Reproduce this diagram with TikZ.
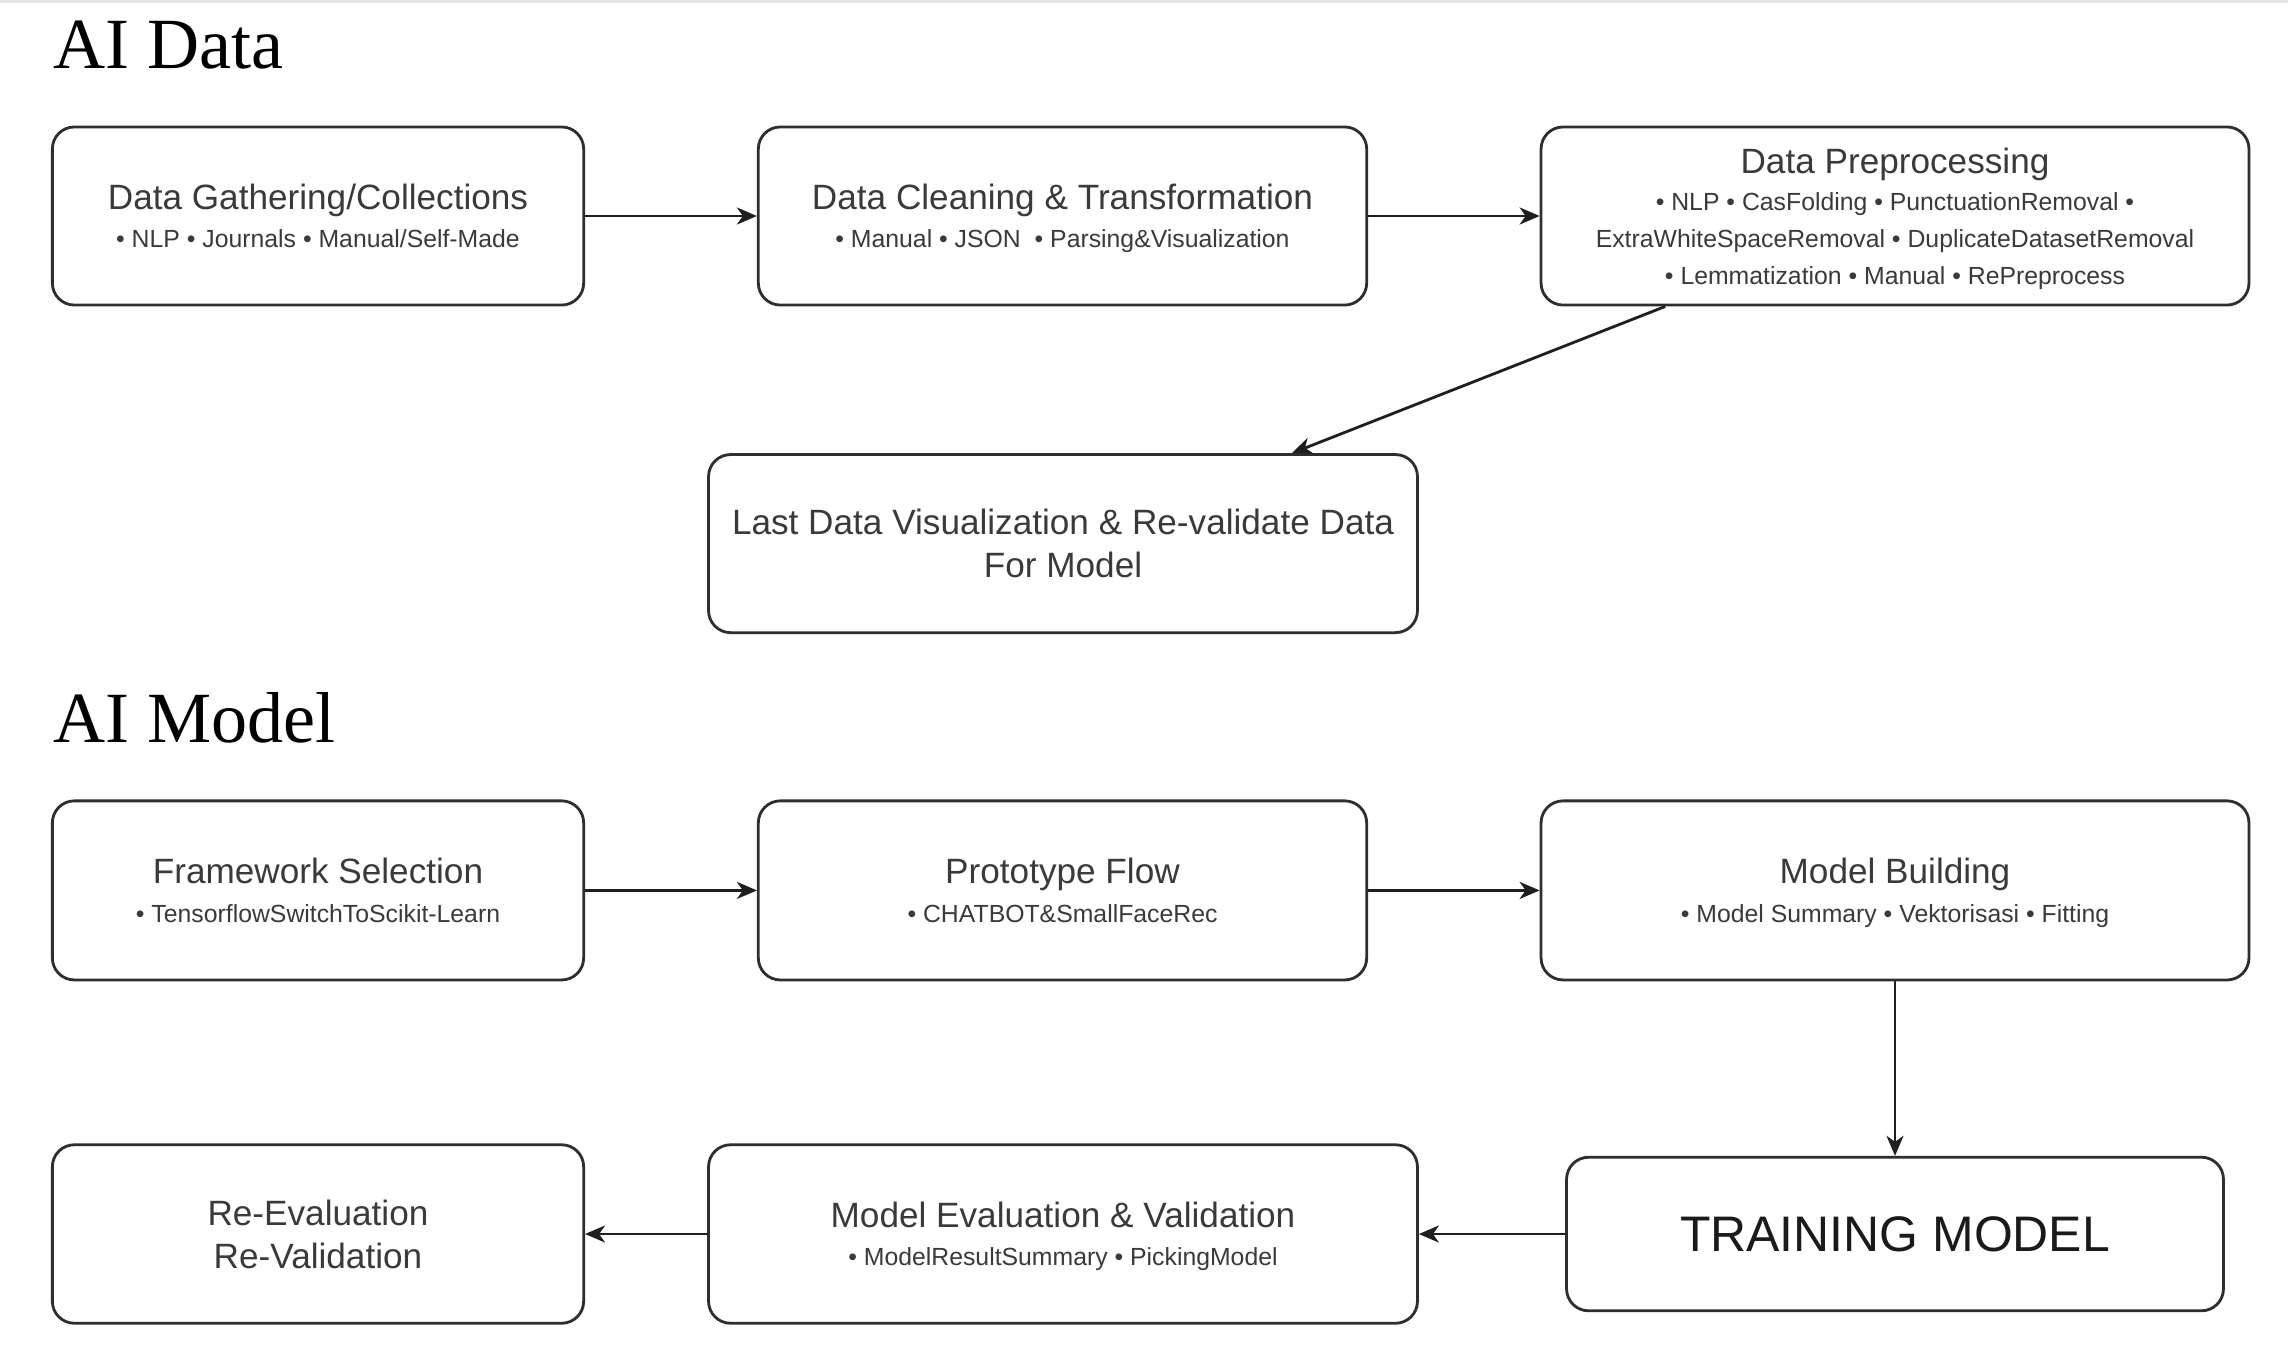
\documentclass[tikz,border=0pt]{standalone}
\usepackage{fontspec}
\setmainfont{Liberation Serif}
\newfontfamily\arialf{Liberation Sans}
\usetikzlibrary{arrows.meta,calc}
\definecolor{boxline}{HTML}{2E2E2E}
\definecolor{txt}{HTML}{3A3A3A}
\definecolor{darktxt}{HTML}{1A1A1A}
\newcommand\mainf{\fontsize{10}{12.2}\selectfont}
\newcommand\subf{\fontsize{7.05}{10.5}\selectfont}
\tikzset{
  boxbase/.style={draw=boxline, line width=0.8pt, rounded corners=0.22cm, fill=white,
    align=center, text=txt, inner sep=0pt},
  box/.style={boxbase, font=\arialf\subf, text depth=0pt},
  bigbox/.style={boxbase, font=\arialf\mainf},
  arr/.style={draw=black!88, line width=0.8pt, -{Stealth[length=2mm,width=1.7mm,inset=0.6mm]}},
  thinarr/.style={arr, line width=0.6pt},
  title/.style={anchor=base west, font=\fontsize{20.5}{24}\selectfont, inner sep=0pt, text=black}
}
\begin{document}
\begin{tikzpicture}[x=0.01cm, y=-0.01cm]
\fill[white] (0,0) rectangle (2288,1348);
\useasboundingbox (0,0) rectangle (2288,1348);
\fill[black!10] (0,0) rectangle (2288,3);

% titles
\node[title] (tdata) at (52.5,68.8) {AI Data};
\node[title] (tmodel) at (52.5,742.8) {AI Model};

% AI Data row
\node[box, minimum width=5.31cm, minimum height=1.78cm] (B1) at (318,216)
  {{\mainf Data Gathering/Collections}\\[0.3pt] • NLP • Journals • Manual/Self-Made};
\node[box, minimum width=6.08cm, minimum height=1.78cm] (B2) at (1062.5,216)
  {{\mainf Data Cleaning \& Transformation}\\[0.3pt] • Manual • JSON\ \ • Parsing\&Visualization};
\node[box, minimum width=7.075cm, minimum height=1.78cm] (B3) at (1895,216)
  {{\mainf Data Preprocessing}\\[0.2pt] • NLP • CasFolding • PunctuationRemoval •\\
   ExtraWhiteSpaceRemoval • DuplicateDatasetRemoval\\ • Lemmatization • Manual • RePreprocess};
\node[bigbox, minimum width=7.085cm, minimum height=1.78cm] (B4) at (1063,543.6)
  {Last Data Visualization \& Re-validate Data\\For Model};

% AI Model rows
\node[box, minimum width=5.31cm, minimum height=1.79cm] (B5) at (318,890.4)
  {{\mainf Framework Selection}\\[0.6pt] • TensorflowSwitchToScikit-Learn};
\node[box, minimum width=6.08cm, minimum height=1.79cm] (B6) at (1062.5,890.4)
  {{\mainf Prototype Flow}\\[0.6pt] • CHATBOT\&SmallFaceRec};
\node[box, minimum width=7.075cm, minimum height=1.79cm] (B7) at (1895,890.4)
  {{\mainf Model Building}\\[0.6pt] • Model Summary • Vektorisasi • Fitting};
\node[boxbase, minimum width=6.565cm, minimum height=1.535cm, text=darktxt,
      font=\arialf\fontsize{14.2}{17}\selectfont] (B8) at (1895,1234) {TRAINING MODEL};
\node[box, minimum width=7.085cm, minimum height=1.784cm] (B9) at (1063,1234)
  {{\mainf Model Evaluation \& Validation}\\[0.3pt] • ModelResultSummary • PickingModel};
\node[bigbox, minimum width=5.31cm, minimum height=1.784cm] (B10) at (318,1234)
  {Re-Evaluation\\Re-Validation};

% connectors
\coordinate (p1) at ([xshift=1.255cm]B3.south west);
\coordinate (p2) at ([xshift=5.845cm]B4.north west);
\draw[arr] (B1) -- (B2);
\draw[arr] (B2) -- (B3);
\draw[arr] (p1) -- (p2);
\draw[arr] (B5) -- (B6);
\draw[arr] (B6) -- (B7);
\draw[thinarr] (B7) -- (B8);
\draw[arr] (B8) -- (B9);
\draw[arr] (B9) -- (B10);
\end{tikzpicture}
\end{document}
